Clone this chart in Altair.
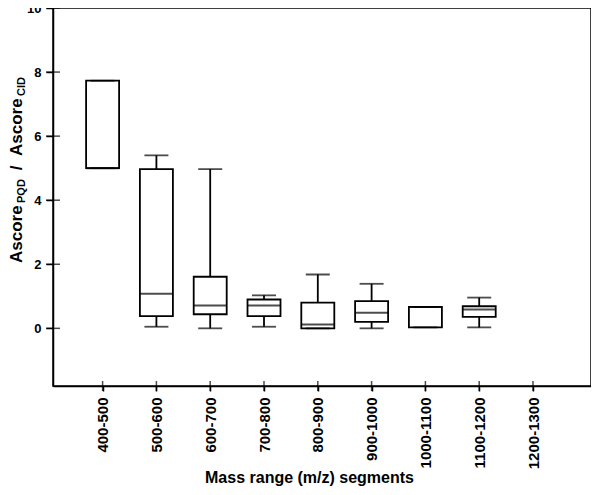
import altair as alt
import pandas as pd

# ---- data ----
CATS = ["400-500", "500-600", "600-700", "700-800", "800-900",
        "900-1000", "1000-1100", "1100-1200", "1200-1300"]
LO  = [5.00, 0.05, 0.00, 0.05, 0.00, 0.00, 0.03, 0.03, None]
Q1  = [5.00, 0.38, 0.44, 0.38, 0.00, 0.20, 0.03, 0.36, None]
MED = [5.00, 1.08, 0.71, 0.71, 0.12, 0.49, 0.67, 0.59, None]
Q3  = [7.73, 4.97, 1.61, 0.90, 0.80, 0.85, 0.67, 0.69, None]
HI  = [7.73, 5.40, 4.97, 1.03, 1.68, 1.39, 0.67, 0.96, None]
YTICKS = [0, 2, 4, 6, 8, 10]

df = pd.DataFrame({"cat": CATS, "lo": LO, "q1": Q1, "med": MED, "q3": Q3, "hi": HI}).dropna()
ticks_df = pd.DataFrame({"v": YTICKS})
cats_df = pd.DataFrame({"cat": CATS})

W, H = 538, 378
FONT = "Liberation Sans"

yscale = alt.Scale(domain=[-1.8, 10], nice=False, zero=False)
yaxis = alt.Axis(values=YTICKS, title=None)
xscale = alt.Scale(type="point", domain=CATS, padding=1.035, align=0.461)
xaxis = alt.Axis(title="Mass range (m/z) segments", labelAngle=270, labelAlign="right",
                 labelBaseline="middle", labelOverlap=False,
                 titleX=256, titleY=96, titleAlign="center", titleBaseline="alphabetic")


def X():
    return alt.X("cat:N", scale=xscale, axis=xaxis, sort=CATS)


def Y(field):
    return alt.Y(f"{field}:Q", scale=yscale, axis=yaxis)


whisk_lo = alt.Chart(df).mark_rule(color="black", strokeWidth=1.8).encode(x=X(), y=Y("lo"), y2="q1")
whisk_hi = alt.Chart(df).mark_rule(color="black", strokeWidth=1.8).encode(x=X(), y=Y("q3"), y2="hi")
box = alt.Chart(df).mark_bar(fill="white", stroke="black", strokeWidth=1.8, size=33).encode(
    x=X(), y=Y("q1"), y2="q3")
med = alt.Chart(df).mark_tick(color="black", thickness=2, size=33, orient="horizontal").encode(
    x=X(), y=Y("med"))
cap_lo = alt.Chart(df).mark_tick(color="black", thickness=1.8, size=24, orient="horizontal").encode(
    x=X(), y=Y("lo"))
cap_hi = alt.Chart(df).mark_tick(color="black", thickness=1.8, size=24, orient="horizontal").encode(
    x=X(), y=Y("hi"))

ytick_in = alt.Chart(ticks_df).mark_tick(color="black", thickness=1.5, size=14, orient="horizontal").encode(
    x=alt.value(0), y=Y("v"))
xtick_in = alt.Chart(cats_df).mark_tick(color="black", thickness=1.5, size=10, orient="vertical").encode(
    x=X(), y=alt.value(H))


def txt(s, x, y, size, align):
    return alt.Chart(alt.Data(values=[{}])).mark_text(
        text=s, angle=270, align=align, baseline="alphabetic", fontSize=size,
        fontWeight="bold", font=FONT, color="black").encode(x=alt.value(x), y=alt.value(y))


ytitle = [
    txt("Ascore", -31, 255, 17, "left"),
    txt("PQD", -28, 195, 11, "left"),
    txt("/", -31, 160, 17, "center"),
    txt("Ascore", -31, 148, 17, "left"),
    txt("CID", -28, 88, 11, "left"),
]

chart = alt.layer(whisk_lo, whisk_hi, box, med, cap_lo, cap_hi, ytick_in, xtick_in, *ytitle).properties(
    width=W, height=H,
    autosize=alt.AutoSizeParams(type="none"),
    padding={"left": 45, "top": 0, "right": 0, "bottom": 100},
).configure_view(
    stroke="black", strokeWidth=1.5
).configure_axis(
    grid=False, domainColor="black", domainWidth=1.5, tickColor="black", tickWidth=1.5,
    labelColor="black", labelFont=FONT, labelFontWeight="bold",
    titleColor="black", titleFont=FONT, titleFontWeight="bold",
).configure_axisX(
    labelFontSize=15, tickSize=5, labelPadding=6, titleFontSize=16
).configure_axisY(
    labelFontSize=13, tickSize=7, labelPadding=5
)

chart.save("out.html", embed_options={"renderer": "svg", "actions": False})
